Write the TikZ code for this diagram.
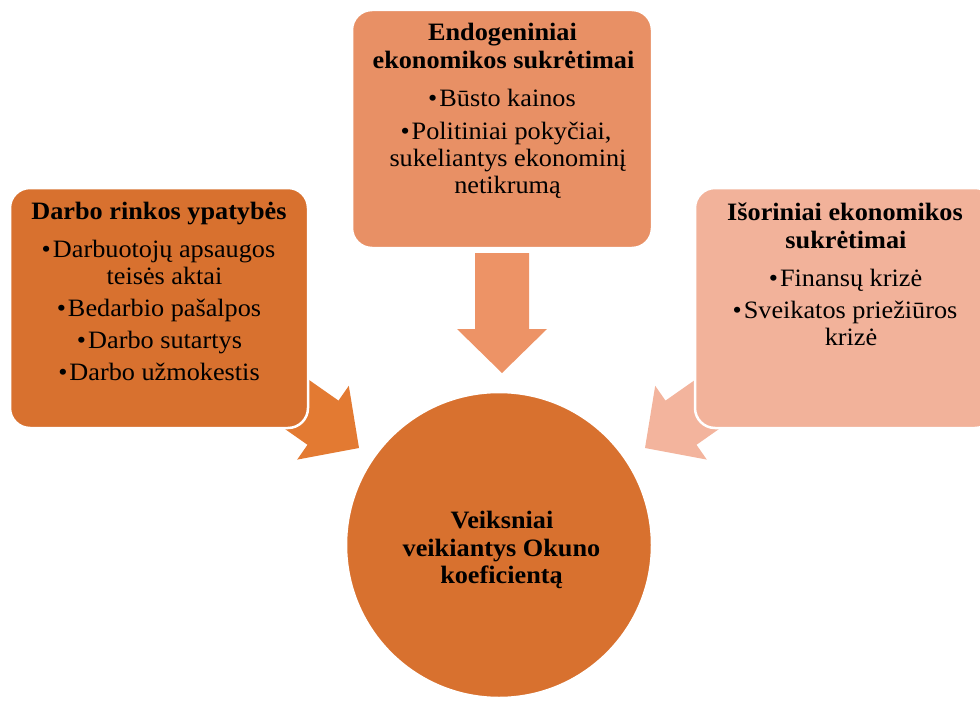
\documentclass[tikz,border=0pt]{standalone}
\usepackage{fontspec}
\setmainfont[FakeStretch=1.05]{Liberation Serif}
\definecolor{boxL}{RGB}{216,113,47}
\definecolor{arrL}{RGB}{227,122,50}
\definecolor{boxT}{RGB}{232,144,101}
\definecolor{arrT}{RGB}{237,147,102}
\definecolor{boxR}{RGB}{242,178,154}
\definecolor{arrR}{RGB}{243,180,157}
\begin{document}
\begin{tikzpicture}[x=1pt,y=-1pt,
  every node/.style={inner sep=0pt, outer sep=0pt, font=\fontsize{25}{30}\selectfont},
  ttl/.style={font=\fontsize{25}{30}\selectfont\bfseries, anchor=base},
  itm/.style={anchor=base},
  box/.style={draw=white, line width=2.5pt, rounded corners=20pt, rectangle},
  blockarrow/.style={draw=none}]
\useasboundingbox (0,0) rectangle (980,701);
\clip (0,0) rectangle (980,701);
% block arrows
\fill[arrL] (276.3,357.0) -- (338.5,400.6) -- (348.8,385.8) -- (359,448) -- (297.2,459.6) -- (307.5,444.8) -- (245.3,401.2) -- cycle;
\fill[arrR] (727.7,357.0) -- (665.5,400.6) -- (655.2,385.8) -- (645,448) -- (706.8,459.6) -- (696.5,444.8) -- (758.7,401.2) -- cycle;
\fill[arrT] (475,253) -- (529,253) -- (529,329) -- (547,329) -- (502,373) -- (457,329) -- (475,329) -- cycle;
% boxes
\node[box, fill=boxL, minimum width=298pt, minimum height=240pt] (left) at (159,308) {};
\node[box, fill=boxT, minimum width=300pt, minimum height=238pt] (top) at (502,129) {};
\node[box, fill=boxR, minimum width=300pt, minimum height=240pt] (right) at (845,308) {};
\node[circle, draw=white, line width=2.5pt, fill=boxL, minimum size=306pt] (circ) at (499,545) {};
% left box text
\node[ttl] (l0) at (159,219) {Darbo rinkos ypatybės};
\node[itm] (l1) at (158.5,257) {•\hspace{2pt}Darbuotojų apsaugos};
\node[itm] (l2) at (164.5,284) {teisės aktai};
\node[itm] (l3) at (159,316) {•\hspace{2pt}Bedarbio pašalpos};
\node[itm] (l4) at (159.5,348) {•\hspace{2pt}Darbo sutartys};
\node[itm] (l5) at (159,380) {•\hspace{2pt}Darbo užmokestis};
% top box text
\node[ttl] (t0) at (502.5,40.5) {Endogeniniai};
\node[ttl] (t1) at (503.5,68.5) {ekonomikos sukrėtimai};
\node[itm] (t2) at (502,106.5) {•\hspace{2pt}Būsto kainos};
\node[itm] (t3) at (506,139.5) {•\hspace{2pt}Politiniai pokyčiai,};
\node[itm] (t4) at (508,166.5) {sukeliantys ekonominį};
\node[itm] (t5) at (507.5,193.5) {netikrumą};
% right box text
\node[ttl] (r0) at (845,220) {Išoriniai ekonomikos};
\node[ttl] (r1) at (846,248) {sukrėtimai};
\node[itm] (r2) at (845.5,286) {•\hspace{2pt}Finansų krizė};
\node[itm] (r3) at (845,318) {•\hspace{2pt}Sveikatos priežiūros};
\node[itm] (r4) at (851,345) {krizė};
% circle text
\node[ttl] (c0) at (502,528) {Veiksniai};
\node[ttl] (c1) at (501.5,556) {veikiantys Okuno};
\node[ttl] (c2) at (501.5,583) {koeficientą};
\end{tikzpicture}
\end{document}
